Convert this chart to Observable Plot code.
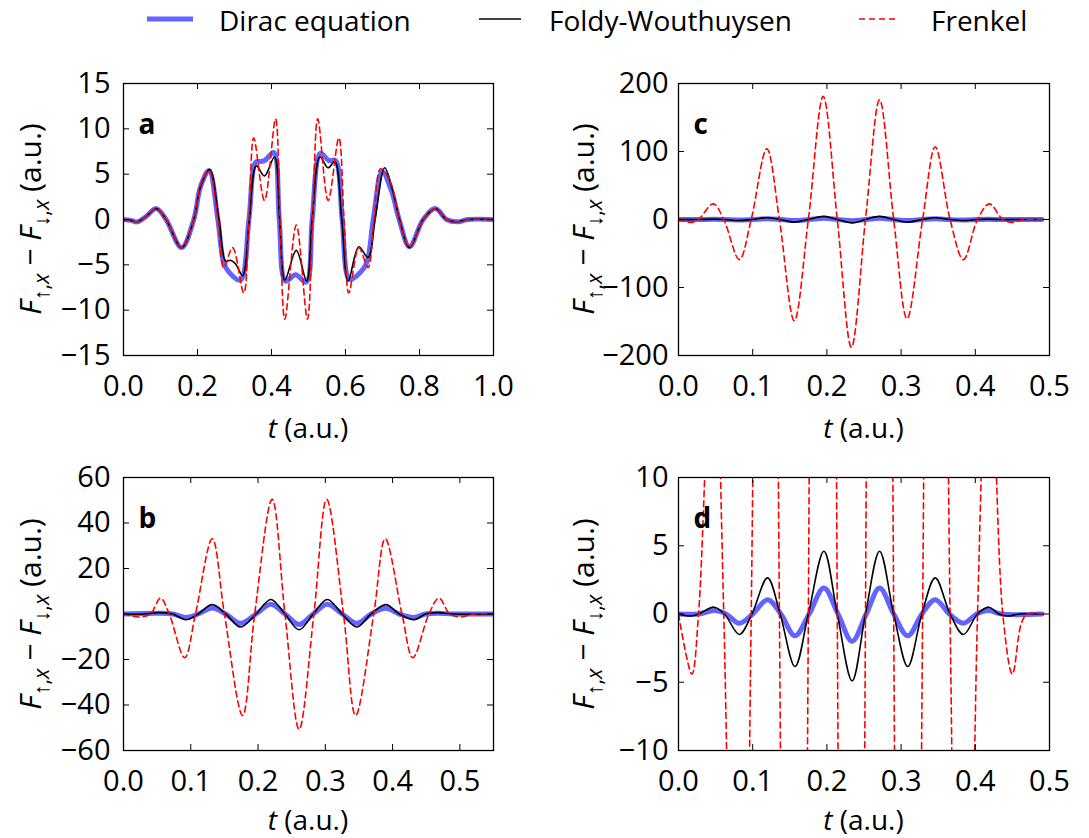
<!DOCTYPE html>
<html><head><meta charset="utf-8">
<script src="https://cdn.jsdelivr.net/npm/d3@7"></script>
<script src="https://cdn.jsdelivr.net/npm/@observablehq/plot@0.6"></script>
<style>
body{margin:0;background:#fff;}
#root{position:relative;width:1089px;height:838px;font-family:"Open Sans",sans-serif;color:#000;overflow:hidden;background:#fff}
.ylab{position:absolute;white-space:nowrap;font-size:30px;transform:translate(-50%,-50%) rotate(-90deg);line-height:1}
.xlab{position:absolute;white-space:nowrap;font-size:28px;transform:translate(-50%,-50%);line-height:1}
.ylab sub{font-size:0.72em;vertical-align:-0.35em;line-height:0}
.leg{position:absolute;white-space:nowrap;font-size:28px;line-height:1;transform:translateY(-50%)}
</style></head>
<body><div id="root"></div>
<script>
// ---------- series (t, value) ----------
const diracA = [[0,0],[0.02,-0.1],[0.037,-0.26],[0.06,0.3],[0.089,1.2],[0.115,0],[0.157,-3.1],[0.19,0],[0.208,3.6],[0.231,5.4],[0.255,0],[0.271,-4.8],[0.285,-5.8],[0.316,-6.7],[0.339,0],[0.357,6.3],[0.37,6.4],[0.382,6.5],[0.406,7.4],[0.421,0],[0.438,-6.8],[0.465,-6.1],[0.494,-6.9],[0.51,0],[0.532,7.3],[0.555,6.5],[0.573,6.5],[0.591,0],[0.611,-6.6],[0.641,-5.8],[0.658,-4.7],[0.675,0],[0.699,5.3],[0.724,3.2],[0.745,0],[0.773,-3.0],[0.81,0],[0.843,1.2],[0.873,0],[0.902,-0.26],[0.93,0],[1.0,0]];
const fwA = [[0,0],[0.02,-0.1],[0.037,-0.26],[0.06,0.3],[0.089,1.2],[0.115,0],[0.157,-3.1],[0.19,0],[0.208,3.6],[0.233,5.5],[0.258,0],[0.276,-4.6],[0.289,-4.5],[0.303,-4.9],[0.322,-6.2],[0.34,0],[0.359,5.9],[0.381,4.8],[0.408,6.9],[0.422,0],[0.436,-6.7],[0.467,-3.4],[0.495,-6.8],[0.51,0],[0.531,6.9],[0.553,5.7],[0.571,6.4],[0.59,0],[0.607,-6.8],[0.636,-3.0],[0.661,-4.2],[0.68,0],[0.706,5.7],[0.726,3.4],[0.746,0],[0.773,-3.1],[0.81,0],[0.843,1.2],[0.873,0],[0.902,-0.26],[0.93,0],[1.0,0]];
const frenkelA = [[0,0],[0.02,-0.1],[0.037,-0.26],[0.06,0.3],[0.089,1.2],[0.115,0],[0.157,-3.1],[0.19,0],[0.208,3.8],[0.231,5.4],[0.255,0],[0.271,-5.3],[0.295,-3.1],[0.325,-8.1],[0.339,0],[0.352,9.0],[0.381,2.1],[0.411,11.1],[0.423,0],[0.436,-11.0],[0.467,-0.6],[0.497,-11.0],[0.511,0],[0.525,11.1],[0.553,2.1],[0.582,9.0],[0.596,0],[0.609,-8.1],[0.636,-3.1],[0.661,-5.3],[0.677,0],[0.695,5.6],[0.722,4.1],[0.745,0],[0.773,-3.0],[0.81,0],[0.843,1.2],[0.873,0],[0.902,-0.26],[0.93,0],[1.0,0]];

const diracB = [[0,0],[0.053,0.3],[0.073,0],[0.093,-1.5],[0.111,0],[0.132,2.6],[0.152,0],[0.174,-4.1],[0.197,0],[0.219,4.3],[0.24,0],[0.261,-4.6],[0.282,0],[0.303,4.3],[0.325,0],[0.347,-4.1],[0.368,0],[0.39,2.5],[0.41,0],[0.432,-1.5],[0.449,0],[0.467,0.3],[0.49,0],[0.55,0]];
const fwB = [[0,0],[0.026,-0.1],[0.053,0.6],[0.073,0],[0.093,-2.5],[0.111,0],[0.132,4.1],[0.152,0],[0.174,-5.7],[0.197,0],[0.219,6.4],[0.24,0],[0.261,-6.9],[0.282,0],[0.303,6.4],[0.325,0],[0.347,-5.7],[0.368,0],[0.39,4.1],[0.41,0],[0.432,-2.5],[0.449,0],[0.467,0.6],[0.49,0],[0.55,0]];
const frenkelB = [[0,0],[0.023,-1.3],[0.04,0],[0.055,7.0],[0.068,0],[0.091,-19.2],[0.107,0],[0.132,33.1],[0.15,0],[0.177,-44.6],[0.195,0],[0.221,50.4],[0.24,0],[0.261,-50.7],[0.283,0],[0.302,50.4],[0.327,0],[0.345,-44.6],[0.372,0],[0.389,33.1],[0.414,0],[0.43,-19.2],[0.454,0],[0.469,7.0],[0.485,0],[0.502,-1.3],[0.52,0],[0.55,0]];

// panels c and d show the same run (d is a zoom of c)
const diracCD = [[0,0],[0.027,0],[0.048,0.25],[0.064,0],[0.082,-0.67],[0.1,0],[0.12,1.05],[0.138,0],[0.157,-1.6],[0.176,0],[0.196,1.9],[0.215,0],[0.234,-2.0],[0.253,0],[0.271,1.9],[0.29,0],[0.309,-1.6],[0.328,0],[0.346,1.05],[0.365,0],[0.384,-0.67],[0.402,0],[0.418,0.25],[0.435,0],[0.49,0]];
const fwCD = [[0,0],[0.016,-0.15],[0.027,0],[0.048,0.5],[0.062,0],[0.082,-1.5],[0.099,0],[0.12,2.65],[0.137,0],[0.157,-3.85],[0.175,0],[0.196,4.6],[0.214,0],[0.234,-4.9],[0.252,0],[0.271,4.6],[0.29,0],[0.309,-3.85],[0.328,0],[0.346,2.65],[0.366,0],[0.384,-1.5],[0.403,0],[0.418,0.5],[0.432,0],[0.443,-0.15],[0.46,0],[0.49,0]];
const frenkelCD = [[0,0],[0.018,-4.4],[0.027,0],[0.047,23],[0.061,0],[0.082,-59],[0.098,0],[0.119,104],[0.136,0],[0.156,-149],[0.175,0],[0.195,181],[0.214,0],[0.233,-188],[0.252,0],[0.271,176],[0.29,0],[0.308,-146],[0.329,0],[0.346,107],[0.366,0],[0.384,-59],[0.403,0],[0.419,23],[0.437,0],[0.45,-4.4],[0.462,-0.7],[0.47,0],[0.49,0]];

// ---------- axes ----------
const xTicks1 = [0, 0.2, 0.4, 0.6, 0.8, 1.0];
const xTicksHalf = [0, 0.1, 0.2, 0.3, 0.4, 0.5];
const yTicksA = [-15, -10, -5, 0, 5, 10, 15];
const yTicksB = [-60, -40, -20, 0, 20, 40, 60];
const yTicksC = [-200, -100, 0, 100, 200];
const yTicksD = [-10, -5, 0, 5, 10];
const panelLetters = ["a", "b", "c", "d"];
const seriesNames = ["Dirac equation", "Foldy-Wouthuysen", "Frenkel"];
const seriesColors = ["#6363ff", "#000000", "#ff0000"];

const root = document.getElementById("root");
const FONT = '"Open Sans", sans-serif';

function panel(p) {
  const W = 480, H = 350;
  const [fx0, fy0, fx1, fy1] = p.frame;
  const mL = fx0 - p.left, mT = fy0 - p.top, mR = p.left + W - fx1, mB = p.top + H - fy1;
  const fw = fx1 - fx0, fh = fy1 - fy0;
  const T = 6;
  const X = d => d[0], Y = d => d[1];
  const svg = Plot.plot({
    width: W, height: H, marginLeft: mL, marginTop: mT, marginRight: mR, marginBottom: mB,
    x: {domain: p.xDomain}, y: {domain: p.yDomain},
    style: {fontFamily: FONT, fontSize: "29px", color: "#000", background: "transparent", overflow: "visible"},
    marks: [
      Plot.line(p.dirac, {x: X, y: Y, stroke: seriesColors[0], strokeWidth: 5, curve: "catmull-rom", clip: true}),
      Plot.line(p.fw, {x: X, y: Y, stroke: seriesColors[1], strokeWidth: 1.6, curve: "catmull-rom", clip: true}),
      Plot.line(p.frenkel, {x: X, y: Y, stroke: seriesColors[2], strokeWidth: 1.6, strokeDasharray: "6,4", curve: "catmull-rom", clip: true}),
      Plot.tickX(p.xTicks, {x: d => d, insetTop: fh - T, stroke: "#000", strokeWidth: 1}),
      Plot.tickX(p.xTicks, {x: d => d, insetBottom: fh - T, stroke: "#000", strokeWidth: 1}),
      Plot.tickY(p.yTicks, {y: d => d, insetRight: fw - T, stroke: "#000", strokeWidth: 1}),
      Plot.tickY(p.yTicks, {y: d => d, insetLeft: fw - T, stroke: "#000", strokeWidth: 1}),
      Plot.frame({stroke: "#000", strokeWidth: 1.3}),
      Plot.axisX({ticks: p.xTicks, tickSize: 0, tickPadding: 20, tickFormat: d3.format(".1f"), label: null, fontSize: 29}),
      Plot.axisY({ticks: p.yTicks, tickSize: 0, tickPadding: p.yPad, tickFormat: d3.format("d"), label: null, fontSize: 29}),
      Plot.text([p.letter], {frameAnchor: "top-left", text: d => d, dx: 15, dy: 31, textAnchor: "start", fontWeight: "bold", fontSize: 28, fill: "#000"})
    ]
  });
  svg.style.position = "absolute";
  svg.style.left = p.left + "px";
  svg.style.top = p.top + "px";
  svg.style.maxWidth = "none";
  root.appendChild(svg);

  const cx = (fx0 + fx1) / 2;
  const xl = document.createElement("div");
  xl.className = "xlab";
  xl.style.left = cx + "px";
  xl.style.top = (fy1 + p.xlabDy) + "px";
  xl.innerHTML = "<i>t</i> (a.u.)";
  root.appendChild(xl);

  const yl = document.createElement("div");
  yl.className = "ylab";
  yl.style.left = p.ylabX + "px";
  yl.style.top = ((fy0 + fy1) / 2) + "px";
  yl.innerHTML = "<i>F</i><sub>\u2191,<i>x</i></sub> \u2212 <i>F</i><sub>\u2193,<i>x</i></sub> (a.u.)";
  root.appendChild(yl);
}

panel({letter: panelLetters[0], left: 50, top: 55, frame: [123, 83, 493, 355], xDomain: [0, 1], yDomain: [-15, 15], xTicks: xTicks1, yTicks: yTicksA, yPad: 13, ylabX: 30, xlabDy: 72, dirac: diracA, fw: fwA, frenkel: frenkelA});
panel({letter: panelLetters[1], left: 50, top: 449, frame: [123, 477, 493, 750], xDomain: [0, 0.55], yDomain: [-60, 60], xTicks: xTicksHalf, yTicks: yTicksB, yPad: 13, ylabX: 30, xlabDy: 69, dirac: diracB, fw: fwB, frenkel: frenkelB});
panel({letter: panelLetters[2], left: 605, top: 55, frame: [678, 83, 1049, 355], xDomain: [0, 0.5], yDomain: [-200, 200], xTicks: xTicksHalf, yTicks: yTicksC, yPad: 10, ylabX: 583, xlabDy: 72, dirac: diracCD, fw: fwCD, frenkel: frenkelCD});
panel({letter: panelLetters[3], left: 605, top: 449, frame: [678, 477, 1049, 750], xDomain: [0, 0.5], yDomain: [-10, 10], xTicks: xTicksHalf, yTicks: yTicksD, yPad: 10, ylabX: 583, xlabDy: 69, dirac: diracCD, fw: fwCD, frenkel: frenkelCD});

// ---------- legend ----------
const legendPos = [{sx: 147, sw: 46, tx: 219, w: 5, dash: null}, {sx: 479, sw: 42, tx: 549, w: 1.6, dash: null}, {sx: 859, sw: 39, tx: 931, w: 1.6, dash: "6,4"}];
seriesNames.forEach((name, i) => {
  const L = legendPos[i];
  const s = document.createElementNS("http://www.w3.org/2000/svg", "svg");
  s.setAttribute("width", L.sw); s.setAttribute("height", 10);
  s.style.position = "absolute"; s.style.left = L.sx + "px"; s.style.top = "14px";
  const ln = document.createElementNS("http://www.w3.org/2000/svg", "line");
  ln.setAttribute("x1", 0); ln.setAttribute("x2", L.sw); ln.setAttribute("y1", 5); ln.setAttribute("y2", 5);
  ln.setAttribute("stroke", seriesColors[i]); ln.setAttribute("stroke-width", L.w);
  if (L.dash) ln.setAttribute("stroke-dasharray", L.dash);
  s.appendChild(ln); root.appendChild(s);
  const t = document.createElement("div");
  t.className = "leg"; t.style.left = L.tx + "px"; t.style.top = "20px";
  t.textContent = name;
  root.appendChild(t);
});
</script></body></html>
